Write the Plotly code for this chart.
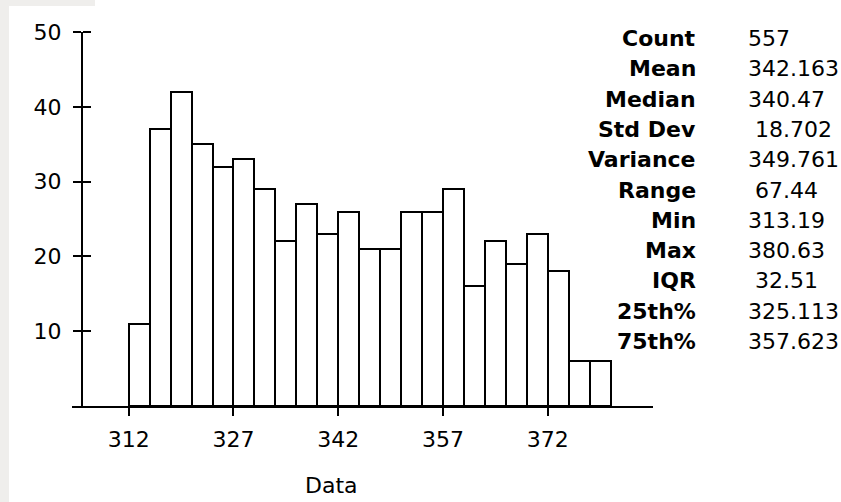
import plotly.graph_objects as go

# ---- data ----
bin_starts = [312, 315, 318, 321, 324, 327, 330, 333, 336, 339, 342, 345,
              348, 351, 354, 357, 360, 363, 366, 369, 372, 375, 378]
counts = [11, 37, 42, 35, 32, 33, 29, 22, 27, 23, 26, 21,
          21, 26, 26, 29, 16, 22, 19, 23, 18, 6, 6]
bin_width = 3
x_ticks = [312, 327, 342, 357, 372]
y_ticks = [10, 20, 30, 40, 50]
stat_labels = ["Count", "Mean", "Median", "Std Dev", "Variance", "Range",
               "Min", "Max", "IQR", "25th%", "75th%"]
stat_values = ["557", "342.163", "340.47", "18.702", "349.761", "67.44",
               "313.19", "380.63", "32.51", "325.113", "357.623"]

# ---- layout geometry (pixels) ----
W, H = 841, 502
L, R, T, B = 72, 653, 32, 406


def px_x(px):
    return (px - L) / (R - L)


def px_y(py):
    return (B - py) / (B - T)


centers = [s + bin_width / 2 for s in bin_starts]

fig = go.Figure()
fig.add_trace(go.Bar(
    x=centers, y=counts, width=[bin_width] * len(counts),
    marker=dict(color="white", line=dict(color="black", width=2)),
    hoverinfo="x+y", showlegend=False,
))

font_main = "DejaVu Sans, Verdana, sans-serif"

fig.update_layout(
    width=W, height=H,
    margin=dict(l=L, r=W - R, t=T, b=H - B, pad=0),
    paper_bgcolor="white", plot_bgcolor="white",
    bargap=0,
    font=dict(family=font_main, size=22, color="black"),
    xaxis=dict(
        range=[303.88, 387.08], showgrid=False, zeroline=False,
        showline=True, linecolor="black", linewidth=2,
        tickmode="array", tickvals=x_ticks,
        ticks="outside", ticklen=8, tickwidth=2, tickcolor="black",
        tickfont=dict(size=22, family=font_main, color="black"),
        ticklabelstandoff=5,
    ),
    yaxis=dict(
        range=[0, 50], showgrid=False, zeroline=False,
        showline=True, linecolor="black", linewidth=2,
        anchor="free", position=px_x(82),
        tickmode="array", tickvals=y_ticks,
        ticks="outside", ticklen=8, tickwidth=2, tickcolor="black",
        tickfont=dict(size=22, family=font_main, color="black"),
        ticklabelstandoff=7,
    ),
    yaxis2=dict(
        range=[0, 50], overlaying="y", anchor="free", position=px_x(82),
        side="right",
        showgrid=False, zeroline=False, showline=False,
        tickmode="array", tickvals=y_ticks, showticklabels=False,
        ticks="outside", ticklen=8, tickwidth=2, tickcolor="black",
    ),
)

# invisible trace to activate yaxis2 (right half of the crossing ticks)
fig.add_trace(go.Scatter(x=[centers[0]], y=[0], yaxis="y2", mode="markers",
                         marker=dict(opacity=0), showlegend=False,
                         hoverinfo="skip"))

# gray window edges
fig.add_shape(type="rect", xref="paper", yref="paper",
              x0=px_x(0), x1=px_x(9), y0=px_y(H), y1=px_y(0),
              fillcolor="#efeeec", line=dict(width=0), layer="below")
fig.add_shape(type="rect", xref="paper", yref="paper",
              x0=px_x(0), x1=px_x(95), y0=px_y(6), y1=px_y(0),
              fillcolor="#efeeec", line=dict(width=0), layer="below")

# axis title
fig.add_annotation(text="Data", xref="paper", yref="paper",
                   x=px_x(331), y=px_y(485), xanchor="center", yanchor="middle",
                   showarrow=False, font=dict(size=22, family=font_main, color="black"))

# statistics table
for i, (lab, val) in enumerate(zip(stat_labels, stat_values)):
    yy = px_y(38.5 + i * 30.3)
    fig.add_annotation(text="<b>" + lab + "</b>", xref="paper", yref="paper",
                       x=px_x(698), y=yy, xanchor="right", yanchor="middle",
                       showarrow=False,
                       font=dict(size=22, family=font_main, color="black"))
    shift = 7 if float(val) < 100 else 0
    fig.add_annotation(text=val, xref="paper", yref="paper",
                       x=px_x(746), y=yy, xanchor="left", yanchor="middle",
                       xshift=shift, showarrow=False,
                       font=dict(size=22, family=font_main, color="black"))

fig.write_html(
    "out.html",
    config={"displayModeBar": False},
    post_script="document.body.style.margin='0';document.body.style.overflow='hidden';",
)
